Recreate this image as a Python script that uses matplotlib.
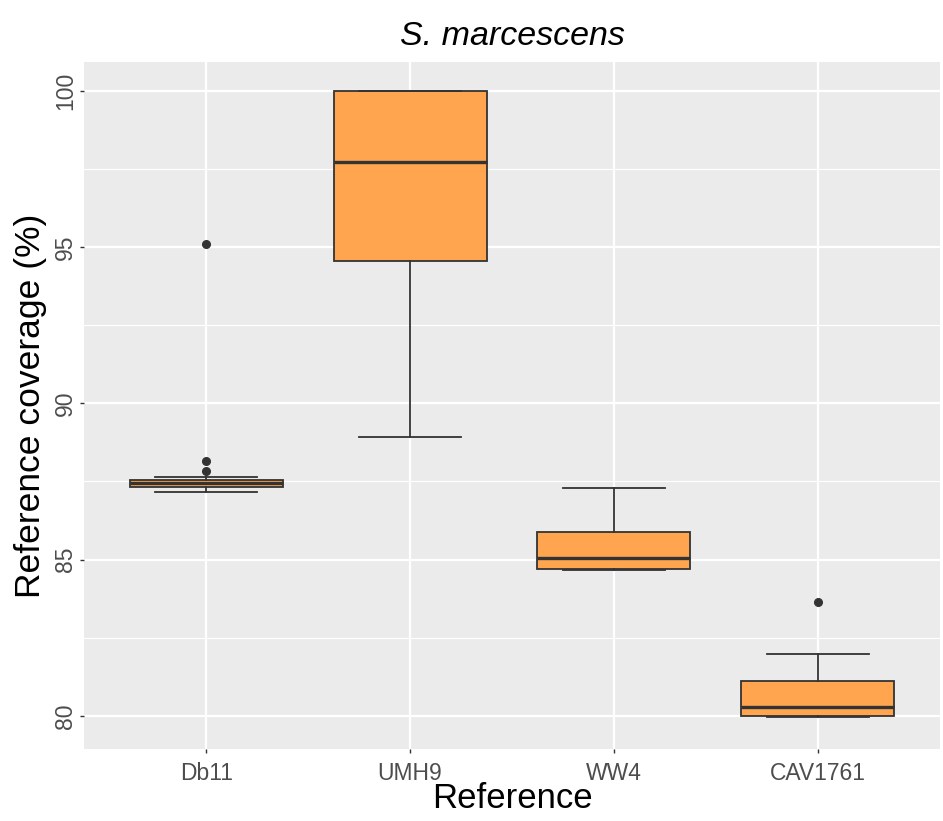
import matplotlib
matplotlib.use("Agg")
import matplotlib.pyplot as plt
from matplotlib.ticker import MultipleLocator

plt.rcParams['font.family'] = ['Liberation Sans', 'DejaVu Sans']

# five-number summaries per reference genome
references = ["Db11", "UMH9", "WW4", "CAV1761"]
whisker_low = [87.15, 88.93, 84.66, 79.96]
q1 = [87.33, 94.55, 84.69, 79.99]
median = [87.45, 97.73, 85.04, 80.29]
q3 = [87.56, 100.0, 85.87, 81.12]
whisker_high = [87.65, 100.0, 87.28, 81.97]
outliers = [[95.09, 88.16, 87.85], [], [], [83.63]]

fill = "#FFA54F"
dark = "#333333"

stats = []
for i, name in enumerate(references):
    stats.append({"label": name, "whislo": whisker_low[i], "q1": q1[i], "med": median[i],
                  "q3": q3[i], "whishi": whisker_high[i], "fliers": outliers[i]})

fig = plt.figure(figsize=(9.43, 8.21), dpi=100)
ax = fig.add_axes([84/943, 1 - 749.3/821, (940 - 84)/943, (749.3 - 61.7)/821])
ax.set_facecolor("#EBEBEB")
for s in ax.spines.values():
    s.set_visible(False)

ax.bxp(stats, positions=range(1, 5), widths=0.75, patch_artist=True,
       boxprops=dict(facecolor=fill, edgecolor=dark, linewidth=1.3),
       medianprops=dict(color=dark, linewidth=2.4),
       whiskerprops=dict(color=dark, linewidth=1.3),
       capprops=dict(color=dark, linewidth=1.3),
       capwidths=0.5,
       flierprops=dict(marker="o", markerfacecolor=dark, markeredgecolor=dark, markersize=5.5),
       zorder=3)

ax.set_xlim(0.4, 4.6)
ax.set_ylim(78.93, 100.93)
ax.yaxis.set_major_locator(MultipleLocator(5))
ax.yaxis.set_minor_locator(MultipleLocator(2.5))
ax.grid(which="major", color="white", linewidth=1.6, zorder=0)
ax.grid(which="minor", axis="y", color="white", linewidth=0.8, zorder=0)
ax.set_axisbelow(True)
ax.set_xticks(range(1, 5))
ax.set_xticklabels(references)

ax.tick_params(axis="both", which="major", length=3, width=1, color=dark,
               labelcolor="#4D4D4D", labelsize=16.5)
ax.tick_params(axis="x", which="major", pad=6)
ax.tick_params(axis="y", which="major", pad=2)
ax.tick_params(axis="both", which="minor", length=0)
for lab in ax.get_yticklabels():
    lab.set_rotation(90)
    lab.set_va("center")

ax.set_xlabel("Reference", fontsize=25, color="black", labelpad=-2)
ax.set_ylabel("Reference coverage (%)", fontsize=25.5, color="black", labelpad=5)
ax.set_title("S. marcescens", fontsize=24.5, style="italic", pad=12)

fig.savefig("out.png", dpi=100)
